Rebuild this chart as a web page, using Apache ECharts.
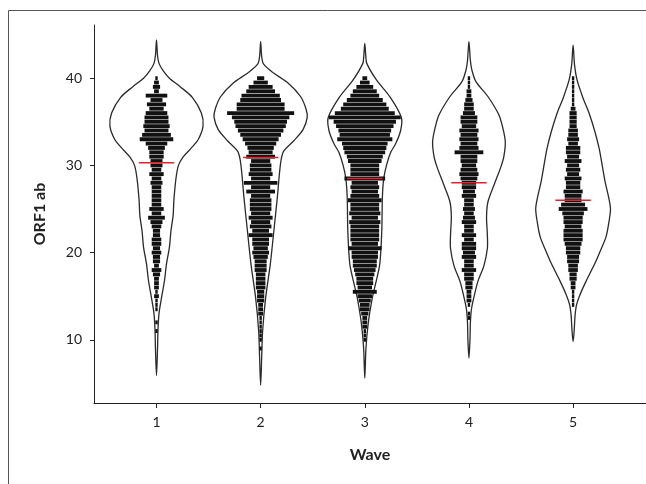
<html>
<head>
    <meta charset='utf-8'>
    <script src='https://cdn.jsdelivr.net/npm/echarts@6/dist/echarts.min.js'></script>
    <style>
        html, body, #main {
            width: 100%;
            height: 100%;
            margin: 0;
            background: #fff;
        }
    </style>
</head>
<body>

<div id='main'></div>
<script>
    var waves = [1, 2, 3, 4, 5];
    var yTicks = [10, 20, 30, 40];
    var medians = [30.3, 30.9, 28.5, 28.0, 26.0];

    // violin outlines: [ORF1 ab, half width in wave units], top to bottom
    var violin1 = [[44.4, 0], [42.6, 0.010], [41.7, 0.024], [40.8, 0.067], [40, 0.124], [39, 0.230],
        [37.8, 0.344], [36, 0.431], [34.5, 0.447], [33, 0.402], [32, 0.335], [31, 0.258], [30, 0.211],
        [28.5, 0.187], [26, 0.167], [24.3, 0.160], [22.5, 0.139], [20.6, 0.124], [18.7, 0.096],
        [16.8, 0.077], [14.8, 0.048], [13, 0.024], [11, 0.014], [9, 0.010], [5.9, 0]];
    var violin2 = [[44.2, 0], [42.5, 0.010], [41.6, 0.029], [40.6, 0.124], [39.4, 0.268], [37.9, 0.383],
        [36.5, 0.435], [35.5, 0.447], [34.1, 0.407], [32.8, 0.316], [31.6, 0.220], [30.2, 0.191],
        [26.3, 0.160], [22.5, 0.127], [18.7, 0.093], [14.8, 0.048], [11, 0.019], [8, 0.010], [4.8, 0]];
    var violin3 = [[44.0, 0], [42.5, 0.010], [41.7, 0.019], [39.8, 0.112], [37.9, 0.239], [35.5, 0.351],
        [34, 0.344], [32.5, 0.297], [31.5, 0.249], [30, 0.208], [28.5, 0.182], [26.4, 0.169],
        [22.5, 0.163], [18.7, 0.144], [16.5, 0.105], [14.8, 0.072], [11.8, 0.032], [9, 0.011], [5.6, 0]];
    var violin4 = [[44.2, 0], [42, 0.014], [40.9, 0.029], [39.6, 0.067], [37.9, 0.182], [35.8, 0.287],
        [34.3, 0.325], [32.7, 0.349], [31, 0.335], [29.8, 0.306], [27.7, 0.239], [25.8, 0.182],
        [24.1, 0.169], [22, 0.177], [20.5, 0.177], [18.5, 0.144], [16.7, 0.086], [14.9, 0.048],
        [13.5, 0.024], [12, 0.014], [10, 0.010], [7.9, 0]];
    var violin5 = [[43.8, 0], [41.5, 0.014], [39.8, 0.038], [37.7, 0.096], [36, 0.153], [33.8, 0.211],
        [32, 0.249], [30.8, 0.268], [28.2, 0.306], [26.2, 0.344], [25, 0.359], [23.5, 0.344],
        [21.8, 0.316], [20.1, 0.258], [18.8, 0.211], [16.7, 0.124], [15.2, 0.067], [14, 0.033],
        [12.8, 0.019], [11, 0.010], [9.8, 0]];

    // dot rows: number of dots side by side in each ORF1 ab bin
    var ctBins = [40, 39.5, 39, 38.5, 38, 37.5, 37, 36.5, 36, 35.5,
        35, 34.5, 34, 33.5, 33, 32.5, 32, 31.5, 31, 30.5,
        30, 29.5, 29, 28.5, 28, 27.5, 27, 26.5, 26, 25.5,
        25, 24.5, 24, 23.5, 23, 22.5, 22, 21.5, 21, 20.5,
        20, 19.5, 19, 18.5, 18, 17.5, 17, 16.5, 16, 15.5,
        15, 14.5, 14, 13.5, 13, 12.5, 12, 11.5, 11, 10.5,
        10, 9.5, 9];
    var swarm1 = [1, 2, 3, 2, 9, 5, 8, 6, 9, 10,
        10, 11, 10, 12, 14, 9, 7, 6, 6, 5,
        5, 4, 6, 4, 5, 4, 4, 4, 4, 4,
        6, 4, 7, 5, 4, 3, 3, 4, 4, 3,
        4, 3, 3, 2, 4, 3, 2, 2, 2, 1,
        2, 1, 1, 1, 0, 0, 1, 0, 1, 0,
        0, 0, 0];
    var swarm2 = [3, 6, 10, 12, 16, 17, 20, 20, 28, 24,
        22, 21, 19, 17, 15, 13, 11, 10, 12, 8,
        9, 9, 10, 8, 14, 8, 12, 8, 9, 9,
        9, 8, 10, 8, 9, 7, 10, 7, 7, 6,
        7, 6, 5, 5, 5, 4, 4, 4, 4, 3,
        3, 3, 2, 2, 2, 1, 1, 1, 1, 1,
        1, 0, 1];
    var swarm3 = [2, 4, 7, 10, 12, 15, 18, 20, 25, 30,
        26, 24, 22, 21, 23, 19, 18, 17, 15, 14,
        12, 12, 12, 17, 11, 12, 11, 12, 14, 12,
        12, 13, 11, 13, 12, 12, 12, 12, 11, 14,
        11, 11, 10, 10, 9, 8, 7, 7, 6, 10,
        6, 5, 4, 4, 3, 2, 2, 2, 1, 1,
        1, 0, 0];
    var swarm4 = [1, 1, 1, 2, 2, 3, 4, 4, 5, 7,
        7, 6, 8, 7, 8, 7, 8, 12, 7, 7,
        6, 7, 8, 7, 6, 6, 5, 6, 4, 4,
        5, 4, 5, 6, 4, 4, 6, 4, 6, 6,
        5, 6, 4, 4, 6, 4, 4, 3, 3, 2,
        2, 2, 1, 0, 1, 1, 0, 0, 0, 0,
        0, 0, 0];
    var swarm5 = [1, 1, 1, 1, 1, 1, 1, 2, 3, 3,
        3, 3, 4, 4, 5, 4, 6, 6, 5, 7,
        5, 6, 5, 7, 6, 6, 8, 7, 7, 10,
        12, 9, 8, 8, 7, 8, 8, 8, 7, 6,
        6, 5, 5, 4, 4, 3, 3, 2, 2, 1,
        1, 1, 1, 0, 0, 0, 0, 0, 0, 0,
        0, 0, 0];

    var violins = [violin1, violin2, violin3, violin4, violin5];
    var swarms = [swarm1, swarm2, swarm3, swarm4, swarm5];

    var swarmData = [];
    swarms.forEach(function (counts, i) {
        counts.forEach(function (n, j) {
            if (n > 0) swarmData.push([waves[i], ctBins[j], n]);
        });
    });

    var font = 'Lato';
    var myChart = echarts.init(document.getElementById('main'));
    myChart.setOption({
        animation: false,
        backgroundColor: '#fff',
        graphic: [
            { type: 'line', shape: { x1: 8.5, y1: 10.5, x2: 646, y2: 10.5 }, style: { stroke: '#555', lineWidth: 1 } },
            { type: 'line', shape: { x1: 8.5, y1: 10.5, x2: 8.5, y2: 484 }, style: { stroke: '#555', lineWidth: 1 } }
        ],
        grid: { left: 94, right: 0, top: 25, bottom: 81 },
        xAxis: {
            type: 'value',
            min: 0.4,
            max: 5.7,
            name: 'Wave',
            nameLocation: 'middle',
            nameGap: 44,
            nameTextStyle: { fontFamily: font, fontWeight: 'bold', fontSize: 16, color: '#222' },
            axisLine: { show: true, onZero: false, lineStyle: { color: '#222', width: 1 } },
            axisTick: { show: true, customValues: waves, length: 5, lineStyle: { color: '#222' } },
            axisLabel: { customValues: waves, margin: 12, fontFamily: font, fontSize: 14, color: '#222' },
            splitLine: { show: false }
        },
        yAxis: {
            type: 'value',
            min: 2.75,
            max: 46.1,
            name: 'ORF1 ab',
            nameLocation: 'middle',
            nameGap: 46,
            nameTextStyle: { fontFamily: font, fontWeight: 'bold', fontSize: 16, color: '#222' },
            axisLine: { show: true, onZero: false, lineStyle: { color: '#222', width: 1 } },
            axisTick: { show: true, customValues: yTicks, length: 4, lineStyle: { color: '#222' } },
            axisLabel: { customValues: yTicks, margin: 12, fontFamily: font, fontSize: 14, color: '#222' },
            splitLine: { show: false }
        },
        series: [
            {
                type: 'custom',
                data: waves.map(function (w) { return [w]; }),
                renderItem: function (params, api) {
                    var w = api.value(0);
                    var prof = violins[params.dataIndex];
                    var pts = [];
                    prof.forEach(function (p) { pts.push(api.coord([w + p[1], p[0]])); });
                    for (var i = prof.length - 2; i > 0; i--) {
                        pts.push(api.coord([w - prof[i][1], prof[i][0]]));
                    }
                    return {
                        type: 'polygon',
                        shape: { points: pts, smooth: 0.3 },
                        style: { fill: 'none', stroke: '#2a2a2a', lineWidth: 1.3 }
                    };
                },
                z: 1
            },
            {
                type: 'custom',
                data: swarmData,
                renderItem: function (params, api) {
                    var c = api.coord([api.value(0), api.value(1)]);
                    var dot = api.size([0.023, 0.5]);
                    var w = api.value(2) * dot[0];
                    var h = dot[1] - 0.5;
                    return {
                        type: 'rect',
                        shape: { x: c[0] - w / 2, y: c[1] - h / 2, width: w, height: h },
                        style: { fill: '#111' }
                    };
                },
                z: 2
            },
            {
                type: 'custom',
                data: waves.map(function (w, i) { return [w, medians[i]]; }),
                renderItem: function (params, api) {
                    var a = api.coord([api.value(0) - 0.17, api.value(1)]);
                    var b = api.coord([api.value(0) + 0.17, api.value(1)]);
                    return {
                        type: 'line',
                        shape: { x1: a[0], y1: a[1], x2: b[0], y2: b[1] },
                        style: { stroke: '#e8202a', lineWidth: 1.5 }
                    };
                },
                z: 3
            }
        ]
    });
</script>
</body>
</html>
